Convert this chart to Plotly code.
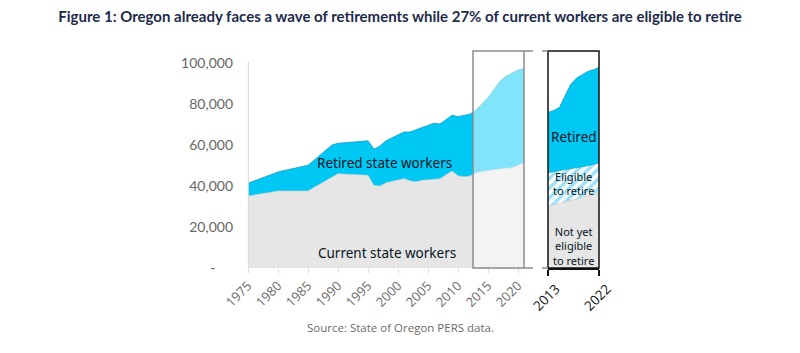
import plotly.graph_objects as go

# ---------------- data (thousands of workers) ----------------
years = list(range(1975, 2022))
total_workers = [41.3, 42.4, 43.5, 44.6, 45.7, 46.8, 47.5, 48.1, 48.8, 49.5,
                 50.1, 52.5, 54.9, 57.5, 60.0, 60.8, 61.0, 61.2, 61.5, 61.8,
                 62.0, 57.9, 59.5, 62.0, 63.5, 65.0, 66.3, 66.3, 67.5, 68.5,
                 69.5, 70.6, 70.2, 72.5, 74.5, 73.8, 74.5, 75.0, 77.0, 80.0,
                 83.0, 87.0, 91.0, 93.5, 95.0, 96.5, 97.2]
current_workers = [35.1, 35.6, 36.1, 36.6, 37.1, 37.6, 37.6, 37.6, 37.6, 37.6,
                   37.6, 39.3, 41.0, 42.7, 44.4, 46.0, 45.8, 45.7, 45.5, 45.3,
                   45.2, 40.2, 40.0, 41.6, 42.3, 43.0, 43.6, 42.5, 42.0, 42.8,
                   43.0, 43.0, 43.5, 45.5, 47.3, 45.0, 44.5, 44.9, 46.5, 47.0,
                   47.5, 48.1, 48.3, 48.6, 48.9, 50.0, 51.4]

detail_years = list(range(2013, 2023))
detail_total = [75.8, 76.8, 78.2, 83.5, 89.5, 92.5, 94.0, 95.8, 96.6, 97.7]
detail_eligible_top = [46.5, 47.0, 47.7, 48.0, 48.5, 48.9, 49.3, 50.0, 50.6, 51.1]
detail_not_yet = [30.2, 30.8, 31.5, 32.2, 33.0, 33.5, 34.5, 35.5, 36.2, 36.7]

main_ticks = list(range(1975, 2021, 5))
detail_ticks = [2013, 2022]
y_ticks = [0, 20000, 40000, 60000, 80000, 100000]
y_ticktext = ["-\u2003\u2002", "20,000", "40,000", "60,000", "80,000", "100,000"]

CYAN = "#00c8f5"
CYAN_EDGE = "#0b9cc6"
GREY = "#e6e6e6"
GREY_EDGE = "#c4c4c4"

k = lambda arr: [v * 1000 for v in arr]

fig = go.Figure()

# main panel
fig.add_trace(go.Scatter(x=years, y=k(current_workers), fill="tozeroy",
                         fillcolor=GREY, mode="lines",
                         line=dict(color=GREY_EDGE, width=0.6),
                         xaxis="x", yaxis="y", hoverinfo="skip"))
fig.add_trace(go.Scatter(x=years, y=k(total_workers), fill="tonexty",
                         fillcolor=CYAN, mode="lines",
                         line=dict(color=CYAN_EDGE, width=0.8),
                         xaxis="x", yaxis="y", hoverinfo="skip"))

# detail panel
fig.add_trace(go.Scatter(x=detail_years, y=k(detail_not_yet), fill="tozeroy",
                         fillcolor=GREY, mode="lines",
                         line=dict(color=GREY_EDGE, width=0.6),
                         xaxis="x2", yaxis="y", hoverinfo="skip"))
fig.add_trace(go.Scatter(x=detail_years, y=k(detail_eligible_top), fill="tonexty",
                         fillcolor="white", mode="lines",
                         fillpattern=dict(shape="/", fgcolor="#3cc4ec",
                                          bgcolor="#ffffff", size=7, solidity=0.5),
                         line=dict(color=CYAN_EDGE, width=0.6),
                         xaxis="x2", yaxis="y", hoverinfo="skip"))
fig.add_trace(go.Scatter(x=detail_years, y=k(detail_total), fill="tonexty",
                         fillcolor=CYAN, mode="lines",
                         line=dict(color=CYAN_EDGE, width=0.8),
                         xaxis="x2", yaxis="y", hoverinfo="skip"))

L, R, T, B = 248, 201, 51, 85
PW = 800 - L - R
main_end = (524 - L) / PW
det_start = (548 - L) / PW
box_start = (473 - L) / PW

fig.update_layout(
    width=800, height=353,
    margin=dict(l=L, r=R, t=T, b=B),
    paper_bgcolor="white", plot_bgcolor="rgba(0,0,0,0)",
    showlegend=False,
    title=dict(text="<b>Figure 1: Oregon already faces a wave of retirements while 27% of current workers are eligible to retire</b>",
               x=0.5, xref="container", xanchor="center",
               y=1 - 17 / 353, yref="container", yanchor="middle",
               font=dict(family="Lato", size=15, color="#1d2b4a")),
    xaxis=dict(domain=[0, main_end], range=[1975, 2021],
               tickvals=main_ticks, tickangle=-45,
               ticks="outside", ticklen=4, tickcolor="#d9d9d9",
               tickfont=dict(family="Open Sans", size=13, color="#6b6b6b"),
               showgrid=False, zeroline=False, showline=False),
    xaxis2=dict(domain=[det_start, 1], range=[2013, 2022], anchor="y",
                tickvals=detail_ticks, tickangle=-45,
                ticks="outside", ticklen=6, tickcolor="#111111", tickwidth=1.5,
                ticklabelshift=8,
                tickfont=dict(family="Open Sans", size=13.5, color="#111111"),
                showgrid=False, zeroline=False, showline=True,
                linecolor="#111111", linewidth=1.5),
    yaxis=dict(range=[0, 105800], tickvals=y_ticks, ticktext=y_ticktext,
               tickfont=dict(family="Lato", size=14, color="#666666"),
               ticklabelstandoff=14,
               showgrid=False, zeroline=False, showline=False),
)

shapes = [
    # y axis line of main panel
    dict(type="line", xref="paper", yref="y", x0=0.001, x1=0.001, y0=0, y1=100500,
         line=dict(color="#d9d9d9", width=1)),
    # highlight box over recent years
    dict(type="rect", xref="paper", yref="paper", x0=box_start, x1=main_end, y0=0, y1=1,
         fillcolor="rgba(255,255,255,0.5)", line=dict(color="#8c8c8c", width=1.5),
         layer="above"),
    # detail panel frame
    dict(type="rect", xref="paper", yref="paper", x0=det_start, x1=1, y0=0, y1=1,
         fillcolor="rgba(0,0,0,0)", line=dict(color="#111111", width=1.5),
         layer="above"),
    # connectors
    dict(type="line", xref="paper", yref="paper", x0=main_end, x1=det_start, y0=1, y1=1,
         line=dict(color="#8c8c8c", width=1.5, dash="dash")),
    dict(type="line", xref="paper", yref="paper", x0=main_end, x1=det_start, y0=0, y1=0,
         line=dict(color="#8c8c8c", width=1.5, dash="dash")),
]
fig.update_layout(shapes=shapes)

lab_font = dict(family="Noto Sans", size=13.5, color="#061523")
small_font = dict(family="Noto Sans", size=11, color="#061523")
annotations = [
    dict(x=1997.8, y=51200, xref="x", yref="y", text="Retired state workers",
         showarrow=False, font=lab_font),
    dict(x=1998.2, y=7300, xref="x", yref="y", text="Current state workers",
         showarrow=False, font=lab_font),
    dict(x=2017.5, y=63900, xref="x2", yref="y", text="Retired",
         showarrow=False, font=lab_font),
    dict(x=2017.5, y=41000, xref="x2", yref="y", text="Eligible<br>to retire",
         showarrow=False, font=small_font),
    dict(x=2017.5, y=10500, xref="x2", yref="y", text="Not yet<br>eligible<br>to retire",
         showarrow=False, font=small_font),
    dict(x=(400 - L) / PW, y=(268 - 327) / 217, xref="paper", yref="paper",
         xanchor="center", yanchor="middle",
         text="Source: State of Oregon PERS data.", showarrow=False,
         font=dict(family="Open Sans", size=11.5, color="#6b6b6b")),
]
fig.update_layout(annotations=annotations)

fig.write_html("out.html")
